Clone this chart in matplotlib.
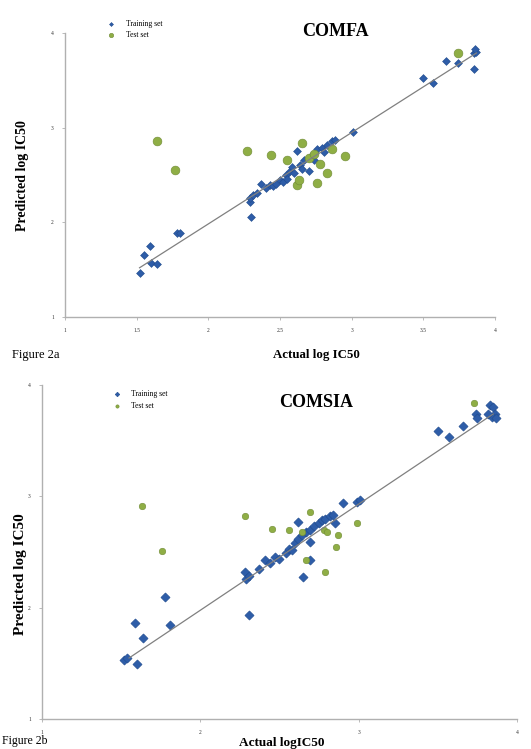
import numpy as np
import matplotlib
matplotlib.use('Agg')
import matplotlib.pyplot as plt

plt.rcParams['font.family'] = ['Liberation Serif', 'DejaVu Serif']

# ---- Figure 2a : COMFA ----
comfa_train_x = [1.52, 1.55, 1.59, 1.60, 1.64, 1.78, 1.80,
                 2.30, 2.29, 2.29, 2.31, 2.34, 2.37, 2.40, 2.43, 2.45, 2.47, 2.50,
                 2.52, 2.54, 2.55, 2.57, 2.58, 2.60, 2.62, 2.64, 2.65, 2.67, 2.70,
                 2.72, 2.74, 2.76, 2.79, 2.81, 2.83, 2.86, 2.88, 3.01,
                 3.50, 3.57, 3.66, 3.74, 3.85, 3.87, 3.86, 3.85]
comfa_train_y = [1.46, 1.65, 1.75, 1.57, 1.56, 1.89, 1.89,
                 2.06, 2.22, 2.26, 2.29, 2.31, 2.41, 2.36, 2.40, 2.38, 2.41, 2.45,
                 2.43, 2.50, 2.46, 2.54, 2.59, 2.52, 2.75, 2.61, 2.56, 2.66, 2.54,
                 2.71, 2.66, 2.77, 2.79, 2.74, 2.82, 2.86, 2.87, 2.96,
                 3.53, 3.47, 3.71, 3.68, 3.79, 3.80, 3.83, 3.62]
comfa_test_x = [1.64, 1.77, 2.27, 2.44, 2.55, 2.65, 2.62, 2.63, 2.76, 2.83,
                2.95, 2.70, 2.74, 2.78, 2.86, 3.74]
comfa_test_y = [2.86, 2.55, 2.75, 2.71, 2.66, 2.84, 2.40, 2.45, 2.42, 2.52,
                2.70, 2.68, 2.72, 2.62, 2.77, 3.79]
comfa_fit_x = [1.52, 3.87]
comfa_fit_y = [1.52, 3.79]

# ---- Figure 2b : COMSIA ----
comsia_train_x = [1.52, 1.54, 1.60, 1.64, 1.59, 1.81, 1.78,
                  2.31, 2.28, 2.29, 2.31, 2.37, 2.41, 2.44, 2.47, 2.50, 2.54, 2.56,
                  2.58, 2.60, 2.62, 2.64, 2.67, 2.69, 2.72, 2.75, 2.77, 2.79, 2.82,
                  2.84, 2.62, 2.69, 2.85, 2.90, 2.99, 3.01, 2.65, 2.69,
                  3.50, 3.57, 3.66, 3.74, 3.75, 3.83, 3.85, 3.86, 3.84, 3.87, 3.82]
comsia_train_y = [1.53, 1.55, 1.50, 1.73, 1.86, 1.85, 2.10,
                  1.94, 2.32, 2.26, 2.29, 2.35, 2.43, 2.40, 2.46, 2.44, 2.49, 2.53,
                  2.52, 2.58, 2.62, 2.65, 2.68, 2.70, 2.73, 2.76, 2.79, 2.80, 2.82,
                  2.83, 2.77, 2.59, 2.76, 2.94, 2.95, 2.97, 2.28, 2.43,
                  3.59, 3.53, 3.63, 3.74, 3.70, 3.82, 3.80, 3.74, 3.71, 3.70, 3.74]
comsia_test_x = [1.63, 1.76, 2.28, 2.45, 2.56, 2.69, 2.64, 2.78, 2.80, 2.87,
                 2.86, 2.99, 2.67, 2.79, 3.73]
comsia_test_y = [2.91, 2.51, 2.82, 2.71, 2.70, 2.86, 2.68, 2.70, 2.68, 2.65,
                 2.55, 2.76, 2.43, 2.32, 3.84]
comsia_fit_x = [1.55, 3.85]
comsia_fit_y = [1.55, 3.74]

blue = '#2E5DA8'
green = '#8FAE45'

fig = plt.figure(figsize=(5.31, 7.49), dpi=100)


def style_axes(ax, xticks, xlabels):
    ax.set_xlim(1, 4)
    ax.set_ylim(1, 4)
    ax.set_xticks(xticks)
    ax.set_xticklabels(xlabels)
    ax.set_yticks([1, 2, 3, 4])
    ax.set_yticklabels(['1', '2', '3', '4'])
    for s in ['top', 'right']:
        ax.spines[s].set_visible(False)
    for s in ['left', 'bottom']:
        ax.spines[s].set_color('#B0B0B0')
        ax.spines[s].set_linewidth(1.0)
    ax.tick_params(direction='out', length=2, width=0.6, color='#B0B0B0',
                   labelsize=4, labelcolor='#333333', pad=6)


def panel(rect, tx, ty, ex, ey, fx, fy, xticks, xlabels, leg_anchor, ms_train, ms_test):
    ax = fig.add_axes(rect)
    ax.scatter(tx, ty, marker='D', s=ms_train, color=blue, edgecolors='#1F4A8C',
               linewidths=0.4, label='Training set', zorder=3)
    ax.scatter(ex, ey, marker='o', s=ms_test, color=green, edgecolors='#6F8A35',
               linewidths=0.4, label='Test set', zorder=3)
    ax.plot(fx, fy, color='#808080', lw=0.9, zorder=4)
    style_axes(ax, xticks, xlabels)
    ax.legend(loc='upper left', bbox_to_anchor=leg_anchor, bbox_transform=fig.transFigure,
              frameon=False, fontsize=5.5, markerscale=0.5, handletextpad=0.9,
              labelspacing=0.45, borderpad=0)
    return ax


# top panel
panel([0.1224, 0.5768, 0.810, 0.379], comfa_train_x, comfa_train_y,
      comfa_test_x, comfa_test_y, comfa_fit_x, comfa_fit_y,
      [1, 1.5, 2, 2.5, 3, 3.5, 4], ['1', '1.5', '2', '2.5', '3', '3.5', '4'],
      (0.188, 0.979), 16, 40)
fig.text(0.631, 0.958, 'COMFA', ha='center', va='center', fontsize=13, fontweight='bold')
fig.text(0.042, 0.766, 'Predicted log IC50', rotation=90, ha='center', va='center',
         fontsize=10, fontweight='bold')
fig.text(0.596, 0.526, 'Actual log IC50', ha='center', va='center', fontsize=9.3,
         fontweight='bold')
fig.text(0.022, 0.526, 'Figure 2a', ha='left', va='center', fontsize=9)

# bottom panel
panel([0.0791, 0.0397, 0.8945, 0.4463], comsia_train_x, comsia_train_y,
      comsia_test_x, comsia_test_y, comsia_fit_x, comsia_fit_y,
      [1, 2, 3, 4], ['1', '2', '3', '4'],
      (0.198, 0.484), 22, 22)
fig.text(0.595, 0.463, 'COMSIA', ha='center', va='center', fontsize=13, fontweight='bold')
fig.text(0.038, 0.2336, 'Predicted log IC50', rotation=90, ha='center', va='center',
         fontsize=11, fontweight='bold')
fig.text(0.531, 0.008, 'Actual logIC50', ha='center', va='center', fontsize=9.5,
         fontweight='bold')
fig.text(0.004, 0.003, 'Figure 2b', ha='left', va='bottom', fontsize=8.5)

fig.savefig('out.png', dpi=100)
